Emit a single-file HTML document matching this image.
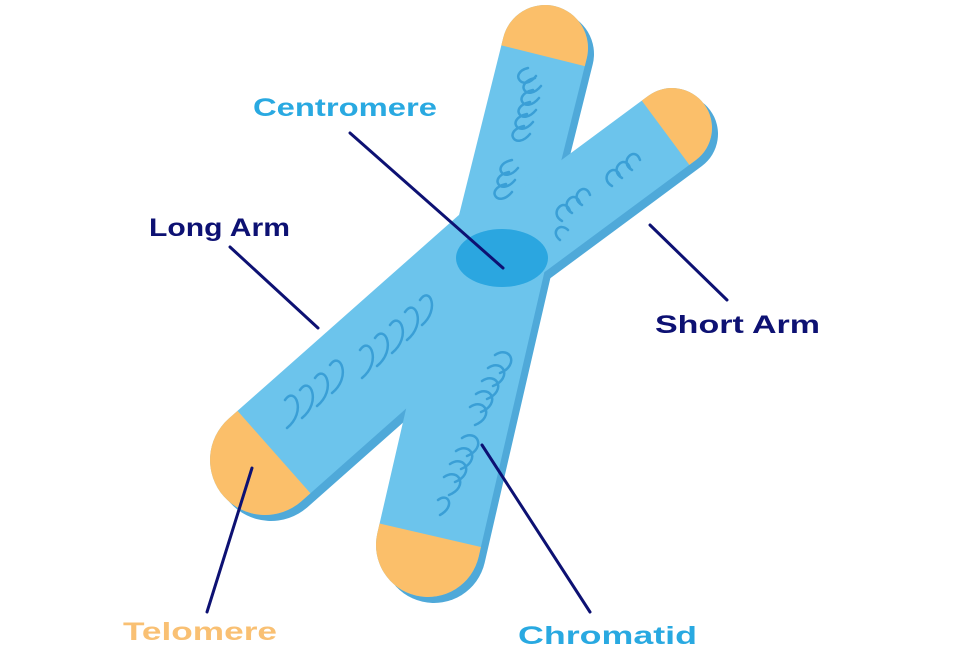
<!DOCTYPE html>
<html><head><meta charset="utf-8"><style>
html,body{margin:0;padding:0;background:#fff;}
svg{display:block;}
text{font-family:"Liberation Sans",sans-serif;font-weight:bold;font-size:25px;}
</style></head><body>
<svg width="975" height="650" viewBox="0 0 975 650" xmlns="http://www.w3.org/2000/svg">
<defs>
</defs>
<!-- shadows -->
<g fill="#4fa9d9" transform="translate(6,6)">
  <g transform="translate(545,48) rotate(-76)"><path d="M-210 -43 L0 -43 A43 43 0 0 1 0 43 L-210 43 Z"/></g>
  <g transform="translate(672,128) rotate(-36.5)"><path d="M-220 -40 L0 -40 A40 40 0 0 1 0 40 L-220 40 Z"/></g>
  <g transform="translate(428,545) rotate(103)"><path d="M-300 -52 L0 -52 A52 52 0 0 1 0 52 L-300 52 Z"/></g>
  <g transform="translate(265,460) rotate(138.5)"><path d="M-310 -55 L0 -55 A55 55 0 0 1 0 55 L-310 55 Z"/></g>
</g>
<g fill="#6cc4ec">
  <g transform="translate(545,48) rotate(-76)"><path d="M-210 -43 L0 -43 A43 43 0 0 1 0 43 L-210 43 Z"/></g>
  <g transform="translate(672,128) rotate(-36.5)"><path d="M-220 -40 L0 -40 A40 40 0 0 1 0 40 L-220 40 Z"/></g>
  <g transform="translate(428,545) rotate(103)"><path d="M-300 -52 L0 -52 A52 52 0 0 1 0 52 L-300 52 Z"/></g>
  <g transform="translate(265,460) rotate(138.5)"><path d="M-310 -55 L0 -55 A55 55 0 0 1 0 55 L-310 55 Z"/></g>
</g>
<!-- telomeres -->
<g fill="#fbbf6a">
  <g transform="translate(545,48) rotate(-76)"><path d="M-8 -43 L0 -43 A43 43 0 0 1 0 43 L-8 43 Z"/></g>
  <g transform="translate(672,128) rotate(-36.5)"><path d="M-8 -40 L0 -40 A40 40 0 0 1 0 40 L-8 40 Z"/></g>
  <g transform="translate(428,545) rotate(103)"><path d="M-10 -52 L0 -52 A52 52 0 0 1 0 52 L-10 52 Z"/></g>
  <g transform="translate(265,460) rotate(138.5)"><path d="M-12 -55 L0 -55 A55 55 0 0 1 0 55 L-12 55 Z"/></g>
</g>
<!-- centromere -->
<ellipse cx="502" cy="258" rx="46" ry="29" fill="#2ba6e0"/>
<!-- coils -->
<g fill="none" stroke="#3a9fd6" stroke-width="2.5" stroke-linecap="round">
  <path d="M528 68 c-20 5 -5 25 8 8 M535 78 c-22 5 -8 25 6 8 M533 90 c-22 5 -8 25 6 8 M530 102 c-22 5 -8 25 6 8 M527 114 c-22 5 -8 25 6 8 M524 126 c-22 5 -8 25 6 8 M512 160 c-22 5 -8 25 6 8 M509 172 c-22 5 -8 25 6 8 M506 184 c-22 5 -8 25 6 8"/>
  <path d="M640 160 c-5 -15 -22 2 -8 10 M630 168 c-5 -15 -22 2 -8 10 M620 176 c-5 -15 -22 2 -8 10 M590 195 c-5 -15 -22 2 -8 10 M580 203 c-5 -15 -22 2 -8 10 M570 211 c-5 -15 -22 2 -8 10 M568 230 c-8 -8 -18 2 -8 10"/>
  <path d="M420 300 c10 -15 20 10 2 25 M405 312 c10 -15 22 12 2 28 M390 325 c10 -15 22 12 2 28 M375 338 c10 -15 22 12 2 28 M360 350 c10 -15 22 12 2 28 M330 365 c10 -15 22 12 2 28 M315 378 c10 -15 22 12 2 28 M300 390 c10 -15 22 12 2 28 M285 400 c10 -15 22 12 2 28"/>
  <path d="M495 355 c15 -10 25 10 5 18 M488 368 c15 -10 25 10 5 18 M482 381 c15 -10 25 10 5 18 M476 394 c15 -10 25 10 5 18 M470 407 c15 -10 25 10 5 18 M462 438 c15 -10 25 10 5 18 M456 451 c15 -10 25 10 5 18 M450 464 c15 -10 25 10 5 18 M444 477 c15 -10 25 10 5 18 M438 500 c10 -8 18 6 2 15"/>
</g>
<!-- leader lines -->
<g stroke="#0d1173" stroke-width="3" stroke-linecap="round">
  <line x1="350" y1="133" x2="503" y2="268"/>
  <line x1="230" y1="247" x2="318" y2="328"/>
  <line x1="650" y1="225" x2="727" y2="300"/>
  <line x1="252" y1="468" x2="207" y2="612"/>
  <line x1="482" y1="445" x2="590" y2="612"/>
</g>
<text x="253" y="116" fill="#29a9e1" textLength="184" lengthAdjust="spacingAndGlyphs">Centromere</text>
<text x="149" y="236" fill="#0d1173" textLength="141" lengthAdjust="spacingAndGlyphs">Long Arm</text>
<text x="655" y="333" fill="#0d1173" textLength="165" lengthAdjust="spacingAndGlyphs">Short Arm</text>
<text x="123" y="640" fill="#f9c073" textLength="154" lengthAdjust="spacingAndGlyphs">Telomere</text>
<text x="518" y="644" fill="#29a9e1" textLength="179" lengthAdjust="spacingAndGlyphs">Chromatid</text>
</svg>
</body></html>
